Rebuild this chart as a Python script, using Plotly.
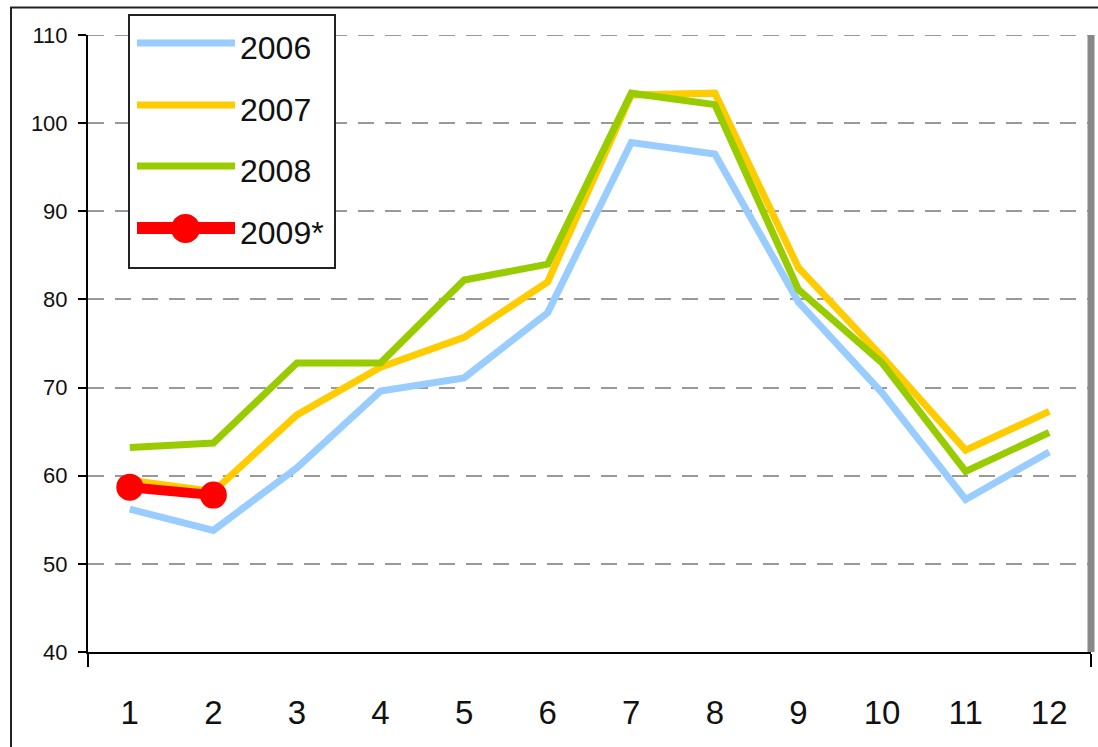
import plotly.graph_objects as go

months = [1, 2, 3, 4, 5, 6, 7, 8, 9, 10, 11, 12]
y2006 = [56.2, 53.8, 60.9, 69.6, 71.1, 78.5, 97.8, 96.5, 79.7, 69.4, 57.3, 62.7]
y2007 = [59.5, 58.2, 66.9, 72.3, 75.7, 82.0, 103.2, 103.4, 83.6, 73.5, 62.9, 67.3]
y2008 = [63.2, 63.7, 72.8, 72.8, 82.2, 84.0, 103.4, 102.1, 81.1, 72.8, 60.5, 64.9]
months2009 = [1, 2]
y2009 = [58.7, 57.8]
y_ticks = [40, 50, 60, 70, 80, 90, 100, 110]
series_names = ["2006", "2007", "2008", "2009*"]
colors = ["#99CCFF", "#FFCC00", "#99CC00", "#FF0000"]

FONT = "Liberation Sans, Arial, sans-serif"

fig = go.Figure()
for name, ys, col in zip(series_names[:3], [y2006, y2007, y2008], colors[:3]):
    fig.add_trace(go.Scatter(x=months, y=ys, mode="lines", name=name,
                             line=dict(color=col, width=7), showlegend=False))
fig.add_trace(go.Scatter(x=months2009, y=y2009, mode="lines+markers", name=series_names[3],
                         line=dict(color=colors[3], width=10),
                         marker=dict(color=colors[3], size=27), showlegend=False))

# plot-area geometry in screen pixels (page margin removed below)
L, R, T, B = 88, 1091, 35, 652
W, H = R - L, B - T

def px(x):
    return (x - L) / W

def py(y):
    return (B - y) / H

shapes = []
# outer frame
shapes.append(dict(type="rect", xref="paper", yref="paper",
                   x0=px(11), x1=px(1140), y0=py(7.5), y1=py(800),
                   line=dict(color="#222222", width=2), layer="below"))
# top gridline (at range edge)
shapes.append(dict(type="line", xref="paper", yref="y", x0=0, x1=1, y0=y_ticks[-1], y1=y_ticks[-1],
                   line=dict(color="#999999", width=2, dash="16px,11px"), layer="below"))
# right grey bar
shapes.append(dict(type="line", xref="paper", yref="paper",
                   x0=px(1091), x1=px(1091), y0=0, y1=1,
                   line=dict(color="#888888", width=7), layer="above"))
# legend box
shapes.append(dict(type="rect", xref="paper", yref="paper",
                   x0=px(129), x1=px(335), y0=py(268), y1=py(15),
                   line=dict(color="#222222", width=2), fillcolor="white", layer="above"))
annotations = []
leg_y = [43, 105, 166, 228]
for i, (name, col) in enumerate(zip(series_names, colors)):
    w = 12 if i == 3 else 7
    shapes.append(dict(type="line", xref="paper", yref="paper",
                       x0=px(137), x1=px(235), y0=py(leg_y[i]), y1=py(leg_y[i]),
                       line=dict(color=col, width=w), layer="above"))
    annotations.append(dict(xref="paper", yref="paper", x=px(238), y=py(leg_y[i] + 5),
                            text=name, showarrow=False, xanchor="left", yanchor="middle",
                            font=dict(family=FONT, size=32, color="#111111")))
shapes.append(dict(type="circle", xref="paper", yref="paper",
                   x0=px(171), x1=px(200), y0=py(243), y1=py(214),
                   line=dict(color=colors[3], width=0), fillcolor=colors[3], layer="above"))

fig.update_layout(
    width=1098, height=747,
    margin=dict(l=L, r=1098 - R, t=T, b=747 - B, pad=0),
    paper_bgcolor="white", plot_bgcolor="white",
    shapes=shapes, annotations=annotations,
    xaxis=dict(range=[0.5, 12.5], tickvals=months, ticktext=[str(m) for m in months],
               showgrid=False, zeroline=False, showline=True, linecolor="black", linewidth=2,
               ticks="", ticklabelstandoff=30,
               tickfont=dict(family=FONT, size=33, color="#111111"),
               minor=dict(ticks="outside", tick0=0.5, dtick=12, ticklen=13, tickcolor="black", tickwidth=2)),
    yaxis=dict(range=[40, 110], tickvals=y_ticks, showgrid=True, gridcolor="#999999", gridwidth=2,
               griddash="16px,11px", zeroline=False, showline=True, linecolor="black", linewidth=2,
               ticks="outside", ticklen=8, tickcolor="black", tickwidth=2, ticklabelstandoff=6,
               tickfont=dict(family=FONT, size=22, color="#111111")),
)
fig.write_html("out.html", config={"displayModeBar": False},
               post_script="document.body.style.margin='0';document.body.style.overflow='hidden';")
